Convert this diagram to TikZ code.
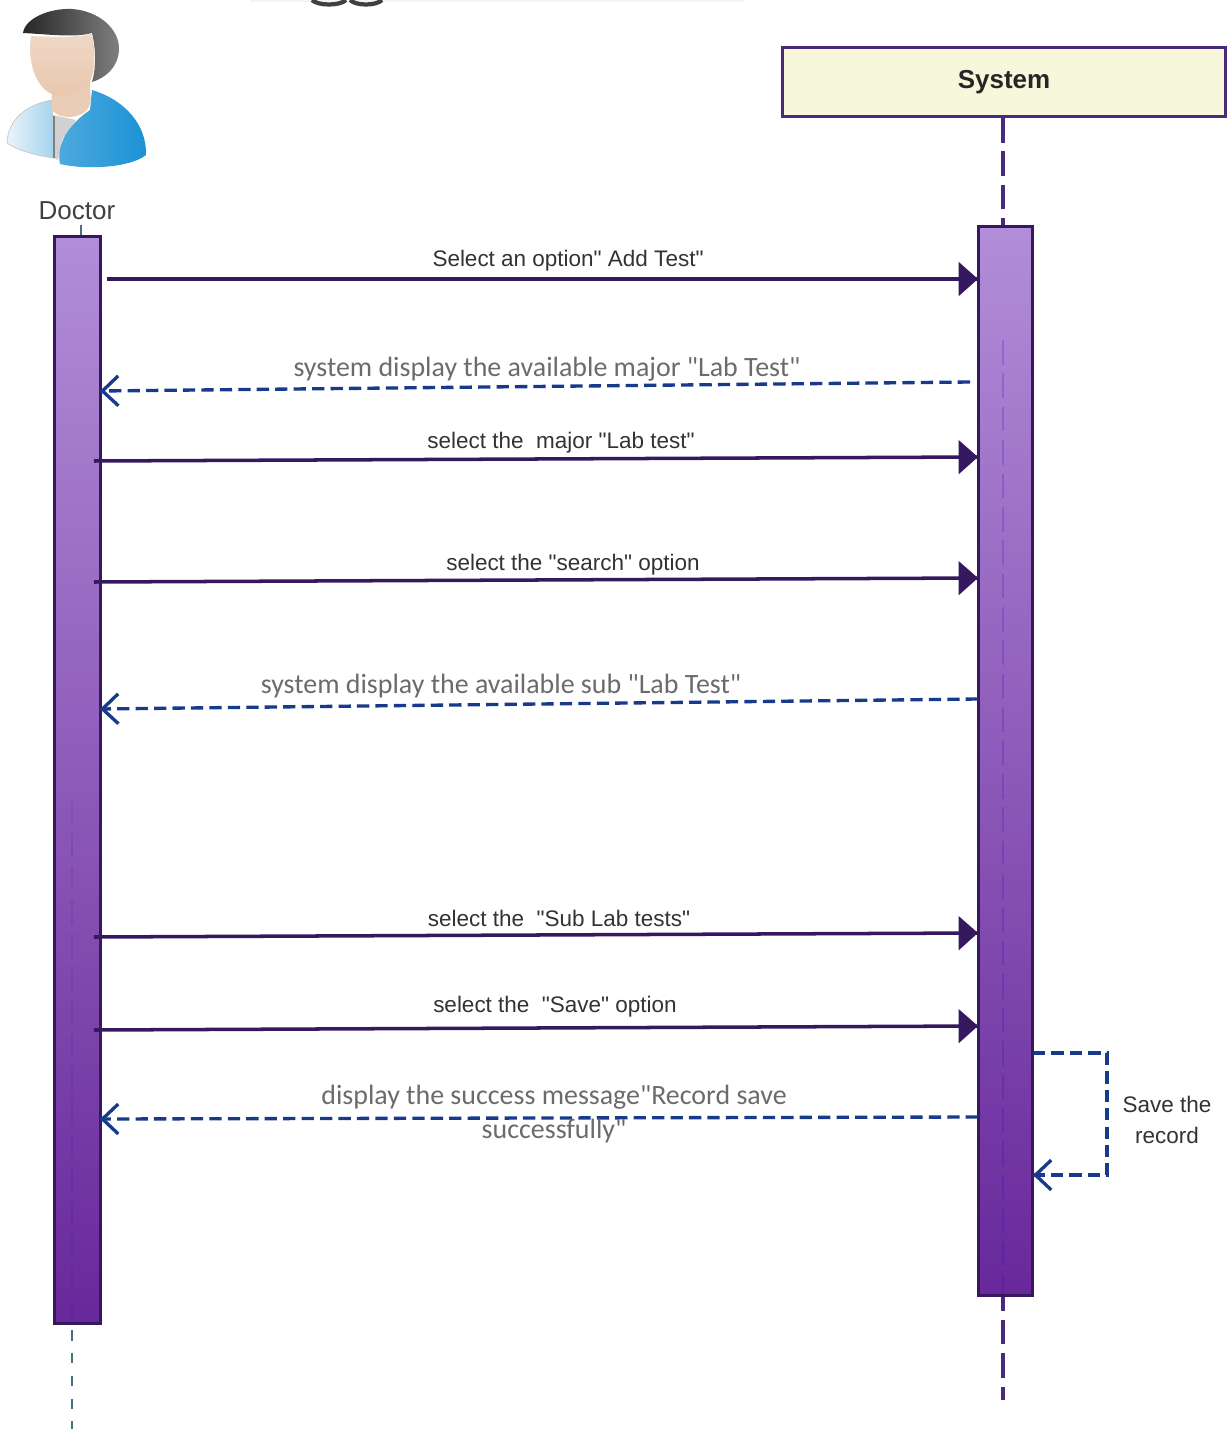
\documentclass[tikz,border=0pt]{standalone}
\usepackage{amsmath}
\usepackage{fontspec}
\setmainfont{Liberation Sans}[Ligatures=TeXOff]
\newfontfamily\msgfont{Carlito}
\usetikzlibrary{decorations.markings,arrows.meta}
\definecolor{linepurple}{HTML}{36185F}
\definecolor{boxpurple}{HTML}{4A2A7A}
\definecolor{bartop}{HTML}{B28DD8}
\definecolor{barbottom}{HTML}{68289A}
\definecolor{returnblue}{HTML}{173A8C}
\definecolor{headyellow}{HTML}{F7F7DC}
\definecolor{facetop}{HTML}{EFD8C6}
\definecolor{facebottom}{HTML}{E8C6AC}
\definecolor{necktone}{HTML}{EACDB6}
\definecolor{coatlight}{HTML}{EAF4FA}
\definecolor{coatpale}{HTML}{A5D3EE}
\definecolor{coatmid}{HTML}{4FAADD}
\definecolor{coatdeep}{HTML}{1B92D6}
\tikzset{
  barbox/.style={draw=linepurple,line width=1.8pt,top color=bartop,bottom color=barbottom,inner sep=0pt},
  callmsg/.style={font=\fontsize{12.8}{16}\selectfont,text=black!80,inner sep=0pt},
  backmsg/.style={font=\msgfont\fontsize{15.9}{20}\selectfont,text=black!58,inner sep=0pt,align=center}
}
\begin{document}
\begin{tikzpicture}[x=0.02cm,y=-0.02cm]
\useasboundingbox (0,0) rectangle (1228,1429);
\draw[black!4,line width=1.5pt] (250,1) -- (745,1);
\draw[black!75,line width=2.4pt] (312,0) .. controls (318,6) and (340,6) .. (346,0);
\draw[black!75,line width=2.4pt] (350,0) .. controls (356,6) and (376,6) .. (382,0);
\shade[left color=black!85,right color=black!50] (23,33) .. controls (25,18) and (50,8) .. (72,9) .. controls (100,11) and (120,30) .. (119,50) .. controls (118,68) and (105,78) .. (92,82) .. controls (97,65) and (95,45) .. (92,33) .. controls (75,38) and (45,34) .. (23,33) -- cycle;
\shade[left color=coatlight,right color=coatpale,draw=black!22] (52,100) .. controls (25,105) and (8,120) .. (7,143) .. controls (20,152) and (40,156) .. (54,158) -- cycle;
\fill[black!18] (53,115) -- (76,120) -- (62,140) -- (58,160) -- (53,158) -- cycle;
\draw[black!50,line width=0.7pt] (54,116) -- (54,158);
\shade[left color=coatmid,right color=coatdeep] (92,90) .. controls (125,100) and (147,125) .. (146,155) .. controls (130,168) and (85,170) .. (60,164) .. controls (56,145) and (68,125) .. (90,110) -- cycle;
\fill[necktone] (52,92) -- (90,82) .. controls (90,95) and (93,105) .. (85,112) .. controls (75,120) and (55,118) .. (51,108) -- cycle;
\shade[top color=facetop,bottom color=facebottom] (31,36) .. controls (50,37) and (75,38) .. (92,34) .. controls (96,55) and (95,72) .. (89,84) .. controls (78,95) and (60,100) .. (50,93) .. controls (36,86) and (27,62) .. (31,36) -- cycle;
\node[font=\fontsize{14.8}{18}\selectfont,text=black!75,inner sep=0pt] (doctorname) at (77,211) {Doctor};
\node[draw=boxpurple,line width=1.8pt,fill=headyellow,minimum width=8.86cm,minimum height=1.38cm,inner sep=0pt,font=\bfseries\fontsize{14.8}{18}\selectfont,text=black!85] (systemhead) at (1004,82) {\raisebox{-2pt}{System}};
\coordinate (doctortop) at (81,225);
\coordinate (doctorend) at (72,1429);
\coordinate (systemend) at (1003,1400);
\draw[cyan!45!black,line width=1pt] (doctortop) -- (81,236);
\draw[boxpurple,line width=2pt,dash pattern=on 14pt off 5pt] (systemhead.south -| systemend) -- (systemend);
\draw[cyan!45!black,line width=1.4pt,dash pattern=on 6pt off 7pt] (72,1330) -- (doctorend);
\node[barbox,minimum width=0.92cm,minimum height=21.76cm] (doctorbar) at (77.5,780) {};
\node[barbox,minimum width=1.08cm,minimum height=21.4cm] (systembar) at (1005.5,761) {};
\draw[blue!60!violet,opacity=0.2,line width=1.5pt,dash pattern=on 14pt off 5pt] (1003,340) -- (1003,1294);
\draw[blue!60!violet,opacity=0.12,line width=1.2pt,dash pattern=on 14pt off 5pt] (72,800) -- (72,1322);
\coordinate (askstart) at (107,279);
\coordinate (askend) at (978,279);
\coordinate (majorstart) at (970,382);
\coordinate (majorend) at (100,391);
\coordinate (pickstart) at (94,461);
\coordinate (pickend) at (978,457);
\coordinate (searchstart) at (94,582);
\coordinate (searchend) at (978,578);
\coordinate (substart) at (978,699);
\coordinate (subend) at (100,709);
\coordinate (labstart) at (94,937);
\coordinate (labend) at (978,933);
\coordinate (savestart) at (94,1030);
\coordinate (saveend) at (978,1026);
\coordinate (donestart) at (978,1117);
\coordinate (doneend) at (100,1119);
\coordinate (selfstart) at (1033,1053);
\coordinate (selfend) at (1033,1175);
\begin{scope}[line width=2pt,decoration={
    markings,
    mark=at position 1 with {\arrow[linepurple]{Triangle[length=11pt,width=19pt]}}}
    ]
\draw[linepurple,postaction={decorate}] (askstart) -- (askend);
\draw[linepurple,postaction={decorate}] (pickstart) -- (pickend);
\draw[linepurple,postaction={decorate}] (searchstart) -- (searchend);
\draw[linepurple,postaction={decorate}] (labstart) -- (labend);
\draw[linepurple,postaction={decorate}] (savestart) -- (saveend);
\end{scope}
\begin{scope}[line width=1.9pt,decoration={
    markings,
    mark=at position 1 with {\arrow[returnblue,solid]{Straight Barb[length=9pt,width=17pt]}}}
    ]
\draw[returnblue,dash pattern=on 7pt off 3.5pt,postaction={decorate}] (majorstart) -- (majorend);
\draw[returnblue,dash pattern=on 7pt off 3.5pt,postaction={decorate}] (substart) -- (subend);
\draw[returnblue,dash pattern=on 7pt off 3.5pt,postaction={decorate}] (donestart) -- (doneend);
\draw[returnblue,dash pattern=on 7pt off 3.5pt,postaction={decorate}] (selfstart) -- (1107,1053) -- (1107,1175) -- (selfend);
\end{scope}
\node[callmsg] (asklabel) at (568,261) {Select an option" Add Test"};
\node[backmsg] (majorlabel) at (547,369) {system display the available major "Lab Test"};
\node[callmsg] (picklabel) at (561,443) {select the\ \ major "Lab test"};
\node[callmsg] (searchlabel) at (573,565) {select the "search" option};
\node[backmsg] (sublabel) at (501,686) {system display the available sub "Lab Test"};
\node[callmsg] (lablabel) at (559,918) {select the\ \ "Sub Lab tests"};
\node[callmsg] (savelabel) at (555,1007) {select the\ \ "Save" option};
\node[backmsg] (donelabel) at (554,1114) {display the success message"Record save\\[-0.5pt]successfully"};
\node[callmsg,align=center,font=\fontsize{12.8}{17.6}\selectfont] (selflabel) at (1167,1120) {Save the\\record};
\end{tikzpicture}
\end{document}
